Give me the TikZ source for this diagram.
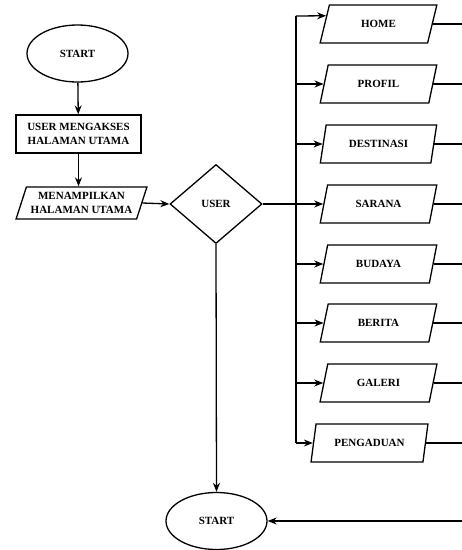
\documentclass[tikz,border=0pt]{standalone}
\usepackage{fontspec}
\setmainfont{Liberation Serif}
\usetikzlibrary{shapes.geometric,arrows.meta,calc}
\begin{document}
\begin{tikzpicture}[x=1pt,y=-1pt,
  line width=1.3pt,
  >={Stealth[length=9pt,width=7pt]},
  txt/.style={font=\fontsize{11}{14}\selectfont\bfseries, align=center},
  term/.style={txt, draw, ellipse, minimum width=101pt, minimum height=57pt, inner sep=0pt},
  proc/.style={txt, draw, rectangle, minimum width=125pt, minimum height=38pt, inner sep=0pt},
  io/.style={txt, draw, trapezium, trapezium left angle=66, trapezium right angle=114,
     trapezium stretches=true, minimum width=117pt, minimum height=38pt, inner sep=0pt},
  dec/.style={txt, draw, diamond, shape aspect=1.16, minimum width=92pt, minimum height=79pt, inner sep=0pt}
]
\useasboundingbox (0,0) rectangle (462,550);

\node[term] (start) at (77.5,53.5) {START};
\node[proc] (akses) at (78.5,134) {USER MENGAKSES\\HALAMAN UTAMA};
\node[io, minimum width=131pt, minimum height=32pt] (tampil) at (81.5,203) {MENAMPILKAN\\HALAMAN UTAMA};
\node[dec] (user) at (216,204) {USER};
\node[term] (end) at (216.5,521) {START};

\node[io] (home) at (378.5,24) {HOME};
\node[io] (profil) at (378.5,84) {PROFIL};
\node[io] (dest) at (378.5,144) {DESTINASI};
\node[io] (sarana) at (378.5,204) {SARANA};
\node[io] (budaya) at (378.5,264) {BUDAYA};
\node[io] (berita) at (378.5,323) {BERITA};
\node[io] (galeri) at (378.5,383) {GALERI};
\node[io] (aduan) at (369.5,443) {PENGADUAN};

\coordinate (bustop) at (296,16);
\coordinate (busbot) at (296,443);
\coordinate (rbot) at (462,521);

\draw[->] (start) -- (akses);
\draw[->] (akses.south) -- (akses.south |- tampil.north);
\draw[->] (tampil.east) -- (user.west);
\draw[->] (user.south) -- (end.north);

% bus
\draw (bustop) -- (busbot);
\draw[->] (bustop) -- ($(home.bottom left corner)!0.71!(home.top left corner)$);
\draw (user.east) -- (user.east -| bustop);
\foreach \n in {profil,dest,sarana,budaya,berita,galeri,aduan}{
  \draw[->] (bustop |- \n.west) -- (\n.west);
}
% right outputs
\foreach \n in {home,profil,dest,sarana,budaya,berita,galeri,aduan}{
  \draw (\n.east) -- (\n.east -| rbot);
}
\draw[->] (rbot) -- (end.east);
\end{tikzpicture}
\end{document}
